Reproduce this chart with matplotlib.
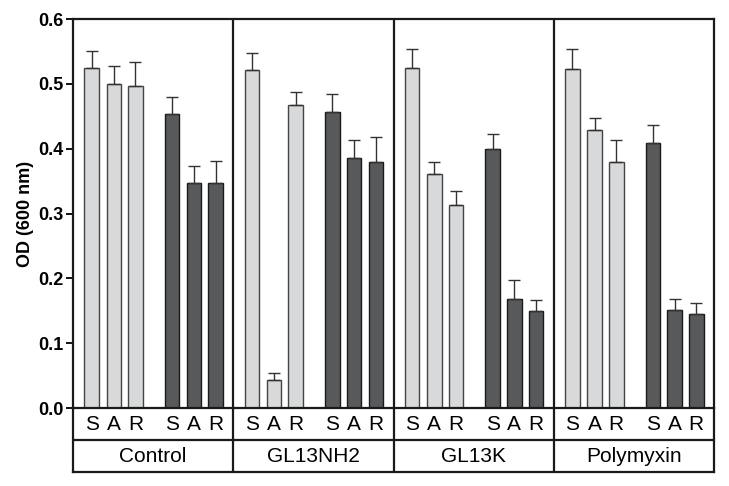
import matplotlib
matplotlib.use("Agg")
import matplotlib.pyplot as plt
import numpy as np

plt.rcParams['font.family'] = ['Liberation Sans', 'DejaVu Sans']

groups = ["Control", "GL13NH2", "GL13K", "Polymyxin"]
sub_labels = ["S", "A", "R"]
light_vals = [[0.525, 0.499, 0.496],
              [0.521, 0.043, 0.468],
              [0.525, 0.361, 0.313],
              [0.523, 0.429, 0.379]]
light_errs = [[0.026, 0.028, 0.037],
              [0.026, 0.011, 0.019],
              [0.029, 0.019, 0.021],
              [0.030, 0.019, 0.035]]
dark_vals = [[0.454, 0.347, 0.347],
             [0.456, 0.386, 0.380],
             [0.400, 0.168, 0.149],
             [0.409, 0.151, 0.145]]
dark_errs = [[0.026, 0.026, 0.034],
             [0.028, 0.028, 0.038],
             [0.022, 0.030, 0.018],
             [0.027, 0.017, 0.017]]

light_color = "#d8d9da"
dark_color = "#58595b"

fig = plt.figure(figsize=(7.29, 4.86), dpi=100)
W, H = 729, 486
L, R, T, B = 73, 714, 19, 408
ax = fig.add_axes([L / W, (H - B) / H, (R - L) / W, (B - T) / H])
tab = fig.add_axes([L / W, (H - 472) / H, (R - L) / W, (472 - B) / H])

# offsets of bar centres within a panel (panel width = 1)
light_off = np.array([18.7, 40.7, 62.4]) / 160.0
dark_off = np.array([99.0, 120.6, 142.3]) / 160.0
bw = 14.5 / 160.0

xt, xl = [], []
for g in range(len(groups)):
    xs_l = g + light_off
    xs_d = g + dark_off
    ax.bar(xs_l, light_vals[g], width=bw, color=light_color, edgecolor="#444444", linewidth=1.0,
           yerr=[np.zeros(3), light_errs[g]], error_kw=dict(ecolor="#333333", elinewidth=1.0, capsize=4, capthick=1.0),
           zorder=2)
    ax.bar(xs_d, dark_vals[g], width=bw, color=dark_color, edgecolor="#1a1a1a", linewidth=1.0,
           yerr=[np.zeros(3), dark_errs[g]], error_kw=dict(ecolor="#333333", elinewidth=1.0, capsize=4, capthick=1.0),
           zorder=2)
    xt += list(xs_l) + list(xs_d)
    xl += sub_labels + sub_labels

ax.set_xlim(0, 4)
ax.set_ylim(0, 0.6)
for b in [1, 2, 3]:
    ax.axvline(b, color="#1a1a1a", lw=1.6, zorder=3)
ax.set_xticks([])
ax.set_yticks(np.arange(0, 0.61, 0.1))
ax.set_yticklabels([f"{v:.1f}" for v in np.arange(0, 0.61, 0.1)], fontsize=13, fontweight="bold")
ax.tick_params(axis="y", direction="out", length=5, width=1.3, pad=2)
for s in ax.spines.values():
    s.set_linewidth(1.6)
    s.set_color("#1a1a1a")
ax.spines["bottom"].set_visible(False)
ax.set_ylabel("OD (600 nm)", fontsize=13, fontweight="bold", labelpad=3)

tab.set_xlim(0, 4)
tab.set_ylim(0, 2)
tab.set_xticks([])
tab.set_yticks([])
for s in tab.spines.values():
    s.set_linewidth(1.6)
    s.set_color("#1a1a1a")
tab.axhline(1, color="#1a1a1a", lw=1.6)
for b in [1, 2, 3]:
    tab.axvline(b, color="#1a1a1a", lw=1.6)
for x, lab in zip(xt, xl):
    tab.text(x, 1.5, lab, ha="center", va="center", fontsize=15)
for g, name in enumerate(groups):
    tab.text(g + 0.5, 0.5, name, ha="center", va="center", fontsize=15)

fig.savefig("out.png", dpi=100)
